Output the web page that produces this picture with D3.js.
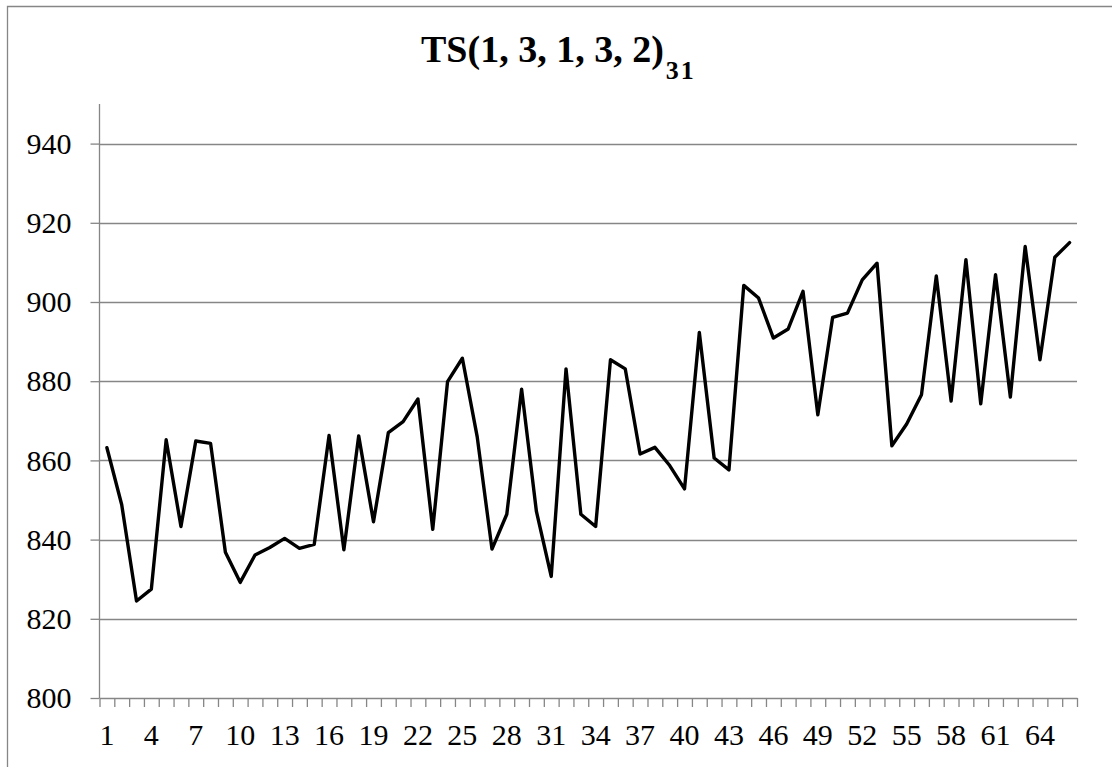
<!DOCTYPE html>
<html>
<head>
<meta charset="utf-8">
<script src="https://cdn.jsdelivr.net/npm/d3@7"></script>
<style>
  html, body { margin: 0; padding: 0; background: #fff; }
  svg { display: block; }
  text { font-family: "Liberation Serif", "DejaVu Serif", serif; fill: #000; }
</style>
</head>
<body>
<svg id="chart" width="1112" height="767"></svg>
<script>
// series: one value per period, 1..66
const periods = d3.range(1, 67);
const values = [
  863.2, 848.8, 824.5, 827.5, 865.2, 843.3, 864.9, 864.3, 836.8, 829.2,
  836.1, 838.0, 840.3, 837.8, 838.8, 866.3, 837.4, 866.2, 844.5, 867.0,
  869.8, 875.5, 842.6, 879.9, 885.8, 866.0, 837.6, 846.4, 878.0, 847.1,
  830.7, 883.1, 846.4, 843.3, 885.4, 883.1, 861.6, 863.3, 858.7, 852.8,
  892.3, 860.6, 857.6, 904.2, 901.0, 890.9, 893.2, 902.7, 871.5, 896.1,
  897.2, 905.6, 909.8, 863.7, 869.2, 876.6, 906.6, 875.0, 910.7, 874.3,
  906.9, 876.0, 914.0, 885.4, 911.3, 915.0
];
const yTicks = [800, 820, 840, 860, 880, 900, 920, 940];
const xLabels = d3.range(1, 67, 3);   // 1, 4, 7 ... 64

const W = 1112, H = 767;
const pL = 99.5, pR = 1077, pT = 104, pB = 698;
const GRID = '#868686';

const svg = d3.select('#chart');
svg.append('rect').attr('width', W).attr('height', H).attr('fill', '#fff');

// chart frame (only the left/top edges fall inside the picture)
svg.append('path').attr('d', `M7.5,${H}V6.5H${W}`)
  .attr('fill', 'none').attr('stroke', GRID).attr('stroke-width', 1.3);

const x = d3.scaleBand().domain(periods).range([pL, pR]).padding(0);
const xEdge = d3.scaleLinear().domain([0, periods.length]).range([pL, pR]);
const y = d3.scaleLinear().domain([800, 950]).range([pB, pT]);

// horizontal gridlines
svg.append('g').selectAll('line').data(yTicks.slice(1)).join('line')
  .attr('x1', pL).attr('x2', pR)
  .attr('y1', d => Math.round(y(d)) + 0.5).attr('y2', d => Math.round(y(d)) + 0.5)
  .attr('stroke', GRID).attr('stroke-width', 1.3);

// y axis
const yAxis = svg.append('g').attr('transform', `translate(${pL},0)`)
  .call(d3.axisLeft(y).tickValues(yTicks).tickSize(9).tickPadding(19).tickSizeOuter(0));
yAxis.select('.domain').remove();
yAxis.append('line').attr('x1', 0).attr('x2', 0).attr('y1', pT).attr('y2', pB)
  .attr('stroke', GRID).attr('stroke-width', 1.3);
yAxis.selectAll('.tick line').attr('stroke', GRID).attr('stroke-width', 1.3);
yAxis.selectAll('.tick text').attr('font-size', 30)
  .attr('font-family', '"Liberation Serif", serif').attr('fill', '#000');

// x axis: tick marks on category boundaries
const xTickAxis = svg.append('g').attr('transform', `translate(0,${pB})`)
  .call(d3.axisBottom(xEdge).tickValues(d3.range(0, periods.length + 1))
    .tickFormat('').tickSize(9).tickSizeOuter(0));
xTickAxis.select('.domain').attr('stroke', GRID).attr('stroke-width', 1.3);
xTickAxis.selectAll('.tick line').attr('stroke', GRID).attr('stroke-width', 1.3);

// x labels every third period, centred on the category
const xLabAxis = svg.append('g').attr('transform', `translate(0,${pB})`)
  .call(d3.axisBottom(x).tickValues(xLabels).tickSize(0).tickPadding(26));
xLabAxis.select('.domain').remove();
xLabAxis.selectAll('.tick text').attr('font-size', 30)
  .attr('font-family', '"Liberation Serif", serif').attr('fill', '#000');

// series line
const line = d3.line()
  .x((d, i) => x(periods[i]) + x.bandwidth() / 2)
  .y(d => y(d));
svg.append('path').datum(values)
  .attr('d', line)
  .attr('fill', 'none').attr('stroke', '#000')
  .attr('stroke-width', 3.4).attr('stroke-linejoin', 'round').attr('stroke-linecap', 'round');

// title with subscript
const title = svg.append('text').attr('x', 421).attr('y', 62)
  .attr('font-family', '"Liberation Serif", serif').attr('font-weight', 'bold')
  .attr('font-size', 38);
title.append('tspan').text('TS(1, 3, 1, 3, 2)');
title.append('tspan').attr('font-size', 26).attr('dx', 2).attr('dy', 17)
  .attr('letter-spacing', 2).text('31');
</script>
</body>
</html>
